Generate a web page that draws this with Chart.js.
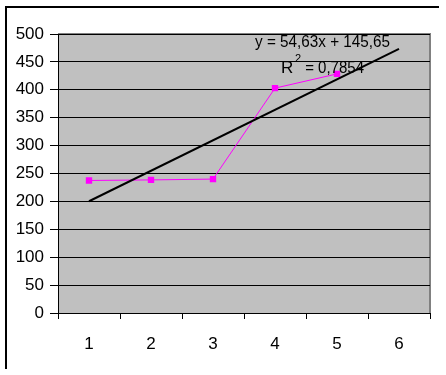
<!DOCTYPE html>
<html>
<head>
<meta charset="utf-8">
<script src="https://cdn.jsdelivr.net/npm/chart.js@4"></script>
<style>
  html, body { margin: 0; padding: 0; background: #fff; }
  #wrap { width: 446px; height: 375px; }
</style>
</head>
<body>
<div id="wrap"><canvas id="chart" width="446" height="375"></canvas></div>
<script>
const categories = ['1', '2', '3', '4', '5', '6'];
const seriesValues = [237.5, 238.5, 240, 403, 428.5, null];
const trendValues = [200.3, null, null, null, null, 473.4];
const yTicks = [0, 50, 100, 150, 200, 250, 300, 350, 400, 450, 500];
const equationText = 'y = 54,63x + 145,65';
const rSquaredText = ' = 0,7854';

const FONT = '"Liberation Sans", Arial, sans-serif';

// frame, grey plot area and the trendline label
const decor = {
  id: 'decor',
  beforeDraw(chart) {
    const { ctx, chartArea: a } = chart;
    ctx.save();
    ctx.fillStyle = '#fff';
    ctx.fillRect(0, 0, chart.width, chart.height);
    ctx.strokeStyle = '#000';
    ctx.lineWidth = 2;
    ctx.beginPath();
    ctx.moveTo(6, 369);
    ctx.lineTo(6, 7);
    ctx.lineTo(439, 7);
    ctx.stroke();
    ctx.fillStyle = '#c0c0c0';
    ctx.fillRect(a.left, a.top, a.right - a.left, a.bottom - a.top);
    ctx.strokeStyle = '#808080';
    ctx.beginPath();
    ctx.moveTo(a.left, a.top);
    ctx.lineTo(a.right, a.top);
    ctx.lineTo(a.right, a.bottom);
    ctx.stroke();
    ctx.restore();
  },
  afterDraw(chart) {
    const { ctx } = chart;
    ctx.save();
    ctx.fillStyle = '#000';
    ctx.textBaseline = 'alphabetic';
    ctx.font = '17px ' + FONT;

    // equation, squeezed to the width it has in the picture
    let w = ctx.measureText(equationText).width;
    ctx.save();
    ctx.translate(255, 47);
    ctx.scale(135 / w, 1);
    ctx.fillText(equationText, 0, 0);
    ctx.restore();

    // R squared
    ctx.fillText('R', 281, 73);
    ctx.font = '11px ' + FONT;
    ctx.fillText('2', 295, 62);
    ctx.font = '17px ' + FONT;
    w = ctx.measureText(rSquaredText).width;
    ctx.save();
    ctx.translate(301, 73);
    ctx.scale(63 / w, 1);
    ctx.fillText(rSquaredText, 0, 0);
    ctx.restore();
    ctx.restore();
  }
};

new Chart(document.getElementById('chart').getContext('2d'), {
  type: 'line',
  data: {
    labels: categories,
    datasets: [
      {
        label: 'Series 1',
        data: seriesValues,
        borderColor: '#ff00ff',
        backgroundColor: '#ff00ff',
        borderWidth: 1,
        pointStyle: 'rect',
        pointRadius: 4.5,
        pointBorderWidth: 0,
        tension: 0,
        order: 2,
      },
      {
        label: 'Trend',
        data: trendValues,
        borderColor: '#000',
        borderWidth: 2,
        pointRadius: 0,
        spanGaps: true,
        tension: 0,
        order: 1,
      },
    ],
  },
  options: {
    responsive: false,
    animation: false,
    layout: { padding: { top: 34, right: 16, left: 0, bottom: 0 } },
    plugins: {
      legend: { display: false },
      tooltip: { enabled: false },
    },
    scales: {
      x: {
        offset: true,
        grid: { offset: true, drawOnChartArea: false, tickLength: 6, color: '#000' },
        border: { color: '#000', width: 1 },
        ticks: { color: '#000', font: { family: FONT, size: 17 }, padding: 15, maxRotation: 0 },
        afterFit(scale) { scale.height = 62; },
      },
      y: {
        min: 0,
        max: 500,
        afterBuildTicks(scale) { scale.ticks = yTicks.map(v => ({ value: v })); },
        grid: { color: '#000', tickLength: 8 },
        border: { color: '#000', width: 1 },
        ticks: { color: '#000', font: { family: FONT, size: 17 }, padding: 6 },
        afterFit(scale) { scale.width = 58; },
      },
    },
  },
  plugins: [decor],
});
</script>
</body>
</html>
